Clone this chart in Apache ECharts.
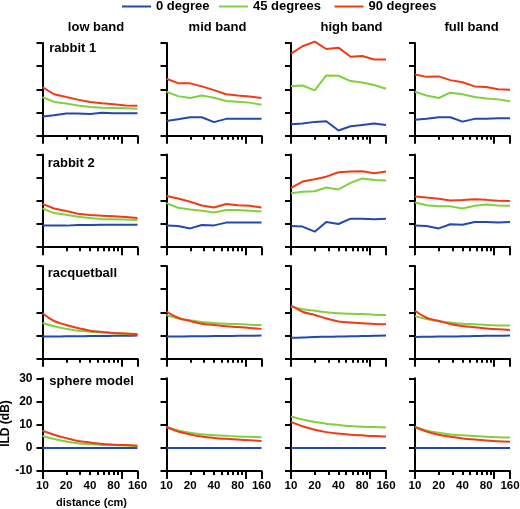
<!DOCTYPE html>
<html>
<head>
<meta charset="utf-8">
<script src="https://cdn.jsdelivr.net/npm/echarts@6/dist/echarts.min.js"></script>
<style>html,body{margin:0;padding:0;background:#fff;}#c{width:520px;height:509px;}</style>
</head>
<body>
<div id="c"></div>
<script>
// ---- data ----
const distances = [10, 14, 20, 28, 40, 57, 80, 113, 160];
const bands = ['low band', 'mid band', 'high band', 'full band'];
const subjects = ['rabbit 1', 'rabbit 2', 'racquetball', 'sphere model'];
const angles = ['0 degree', '45 degrees', '90 degrees'];
const yTicks = [-10, 0, 10, 20, 30];
const xLabelTicks = [10, 20, 40, 80, 160];
const xMajorTicks = [10, 100, 160];
const xMinorTicks = [20, 30, 40, 50, 60, 70, 80, 90];

// each array: [low, mid, high, full]
const rabbit1_0 = [
  [-1.7, -1.1, -0.4, -0.4, -0.6, -0.1, -0.3, -0.3, -0.3],
  [-3.6, -2.9, -2.0, -2.0, -4.1, -2.7, -2.7, -2.7, -2.7],
  [-5.0, -4.7, -4.0, -3.7, -7.7, -5.9, -5.3, -4.7, -5.3],
  [-3.1, -2.7, -2.0, -2.0, -3.9, -2.7, -2.6, -2.4, -2.4]
];
const rabbit1_45 = [
  [6.6, 4.6, 3.9, 3.1, 2.4, 2.1, 2.0, 1.9, 1.7],
  [9.0, 7.1, 6.3, 7.4, 6.4, 5.0, 4.7, 4.3, 3.4],
  [11.4, 11.7, 9.6, 16.0, 15.9, 13.6, 13.0, 11.9, 10.3],
  [9.0, 7.4, 6.3, 8.6, 7.9, 6.7, 6.1, 5.7, 4.9]
];
const rabbit1_90 = [
  [11.0, 7.9, 6.7, 5.6, 4.6, 4.0, 3.6, 3.1, 2.9],
  [14.6, 12.7, 12.6, 11.3, 9.7, 7.9, 7.4, 6.9, 6.3],
  [25.4, 28.6, 30.6, 27.4, 28.0, 24.1, 24.4, 22.9, 22.9],
  [16.4, 15.4, 15.6, 14.0, 13.1, 11.3, 11.0, 10.1, 9.9]
];
const rabbit2_0 = [
  [-0.6, -0.6, -0.7, -0.4, -0.4, -0.3, -0.3, -0.3, -0.3],
  [-0.7, -0.9, -1.9, -0.4, -0.6, 0.6, 0.6, 0.6, 0.6],
  [-0.9, -1.1, -3.3, 0.9, 0.0, 2.3, 2.3, 2.0, 2.3],
  [-0.7, -0.9, -1.9, -0.1, -0.3, 0.9, 0.9, 0.7, 0.9]
];
const rabbit2_45 = [
  [6.7, 4.7, 4.0, 3.1, 2.6, 2.1, 2.0, 1.9, 1.7],
  [9.0, 7.0, 6.3, 5.7, 5.0, 6.0, 6.0, 5.7, 5.4],
  [13.3, 13.9, 14.1, 15.7, 14.9, 17.7, 19.6, 19.0, 18.7],
  [9.3, 8.1, 7.7, 7.6, 6.7, 7.9, 8.4, 8.0, 7.9]
];
const rabbit2_90 = [
  [8.7, 6.7, 5.6, 4.4, 3.9, 3.6, 3.3, 3.0, 2.6],
  [12.1, 11.0, 9.6, 8.0, 7.1, 8.6, 8.1, 7.9, 7.1],
  [15.6, 18.3, 19.3, 20.4, 22.3, 22.6, 22.7, 21.9, 22.6],
  [11.9, 11.4, 10.9, 10.1, 10.3, 10.7, 10.4, 10.0, 9.9]
];
const racquetball_0 = [
  [-0.4, -0.4, -0.3, -0.3, -0.2, -0.2, -0.1, -0.1, 0.0],
  [-0.4, -0.4, -0.3, -0.3, -0.2, -0.2, -0.1, -0.1, 0.0],
  [-0.9, -0.8, -0.6, -0.5, -0.4, -0.3, -0.2, -0.1, 0.0],
  [-0.6, -0.5, -0.4, -0.4, -0.3, -0.2, -0.1, -0.1, 0.0]
];
const racquetball_45 = [
  [5.4, 4.0, 2.9, 2.1, 1.7, 1.3, 1.0, 0.7, 0.6],
  [8.9, 7.4, 6.6, 5.9, 5.4, 5.1, 5.0, 4.7, 4.6],
  [12.4, 11.4, 10.7, 10.1, 9.6, 9.4, 9.3, 9.0, 8.9],
  [8.4, 7.1, 6.3, 5.6, 5.1, 4.9, 4.6, 4.4, 4.3]
];
const racquetball_90 = [
  [9.6, 6.3, 4.6, 3.3, 2.1, 1.6, 1.1, 0.9, 0.6],
  [10.4, 7.7, 6.3, 5.1, 4.6, 4.0, 3.7, 3.3, 2.9],
  [13.1, 10.3, 8.9, 7.4, 6.1, 5.6, 5.3, 5.0, 4.9],
  [10.7, 7.7, 6.3, 5.0, 4.1, 3.6, 3.1, 2.7, 2.4]
];
const sphere_0 = [
  [0, 0, 0, 0, 0, 0, 0, 0, 0],
  [0, 0, 0, 0, 0, 0, 0, 0, 0],
  [0, 0, 0, 0, 0, 0, 0, 0, 0],
  [0, 0, 0, 0, 0, 0, 0, 0, 0]
];
const sphere_45 = [
  [5.1, 3.8, 2.8, 2.0, 1.6, 1.3, 1.2, 1.0, 0.7],
  [9.0, 7.5, 6.5, 5.9, 5.5, 5.2, 4.9, 4.8, 4.6],
  [13.5, 12.2, 11.2, 10.4, 9.9, 9.4, 9.1, 9.0, 8.8],
  [9.0, 7.5, 6.5, 5.8, 5.4, 5.1, 4.8, 4.6, 4.5]
];
const sphere_90 = [
  [7.4, 5.7, 4.2, 3.0, 2.3, 1.7, 1.4, 1.2, 0.9],
  [9.0, 7.1, 5.8, 4.9, 4.3, 3.9, 3.6, 3.3, 3.0],
  [11.2, 9.3, 7.8, 6.8, 6.2, 5.7, 5.4, 5.1, 4.9],
  [9.0, 7.1, 5.7, 4.8, 4.1, 3.6, 3.2, 2.9, 2.6]
];

const subjectData = [
  [rabbit1_0, rabbit1_45, rabbit1_90],
  [rabbit2_0, rabbit2_45, rabbit2_90],
  [racquetball_0, racquetball_45, racquetball_90],
  [sphere_0, sphere_45, sphere_90]
];
const smoothRows = [false, false, true, true];

// ---- layout & style ----
const colors = ['#2447b0', '#80d040', '#f23a16'];
const FONT = '"Liberation Sans", Arial, Helvetica, sans-serif';
const gridLeft = [42.5, 166.5, 291, 415];
const gridTop = [43, 154.4, 266, 378.3];
const gridW = 95;
const gridH = 92.8;
const titleX = [96, 217.5, 351.5, 471.5];
const rowLabelPos = [[49.3, 48.3], [47.7, 163], [47.7, 273], [49.3, 381.5]];

const grids = [], xAxes = [], yAxes = [], series = [];
for (let r = 0; r < 4; r++) {
  for (let c = 0; c < 4; c++) {
    const g = grids.length;
    grids.push({left: gridLeft[c], top: gridTop[r], width: gridW, height: gridH,
      containLabel: false, outerBoundsMode: 'none'});
    const bottomRow = r === 3;
    // major ticks + labels
    xAxes.push({
      type: 'log', logBase: 10, min: 10, max: 160, gridIndex: g, position: 'bottom',
      axisLine: {show: true, onZero: false, lineStyle: {color: '#000', width: 2}},
      axisTick: {show: true, customValues: xMajorTicks, length: 8, lineStyle: {color: '#000', width: 2}},
      axisLabel: {show: bottomRow, customValues: xLabelTicks, margin: 9, color: '#000',
        fontSize: 11.5, fontWeight: 'bold', fontFamily: FONT, formatter: v => String(Math.round(v))},
      splitLine: {show: false}, minorTick: {show: false}, minorSplitLine: {show: false}
    });
    const xi = xAxes.length - 1;
    // minor ticks
    xAxes.push({
      type: 'log', logBase: 10, min: 10, max: 160, gridIndex: g, position: 'bottom', offset: 0,
      axisLine: {show: false, onZero: false},
      axisTick: {show: true, customValues: xMinorTicks, length: 4, lineStyle: {color: '#000', width: 2}},
      axisLabel: {show: false},
      splitLine: {show: false}
    });
    yAxes.push({
      type: 'value', min: -10, max: 30, interval: 10, gridIndex: g,
      axisLine: {show: true, onZero: false, lineStyle: {color: '#000', width: 2}},
      axisTick: {show: true, length: 6, lineStyle: {color: '#000', width: 2}},
      axisLabel: {show: r === 3 && c === 0, margin: 10, color: '#000', fontSize: 12,
        fontWeight: 'bold', fontFamily: FONT},
      splitLine: {show: false}
    });
    for (let a = 0; a < 3; a++) {
      const vals = subjectData[r][a][c];
      series.push({
        name: angles[a], type: 'line', xAxisIndex: xi, yAxisIndex: g,
        data: distances.map((d, i) => [d, vals[i]]),
        showSymbol: false, symbol: 'none', smooth: smoothRows[r] ? 0.4 : false,
        clip: false, silent: true, animation: false,
        lineStyle: {color: colors[a], width: 2},
        itemStyle: {color: colors[a]}, z: 2 + a
      });
    }
  }
}

const legendLeft = [122, 219, 334.5];
const legends = angles.map((name, i) => ({
  data: [name], left: legendLeft[i], top: 0, padding: 0,
  icon: 'rect', itemWidth: 29, itemHeight: 2, selectedMode: false,
  textStyle: {color: '#000', fontSize: 13, fontWeight: 'bold', fontFamily: FONT}
}));

const graphics = [];
bands.forEach((b, i) => graphics.push({
  type: 'text', x: titleX[i], y: 27.3, silent: true,
  style: {text: b, fill: '#000', font: 'bold 13px ' + FONT, align: 'center', verticalAlign: 'middle'}
}));
subjects.forEach((s, i) => graphics.push({
  type: 'text', x: rowLabelPos[i][0], y: rowLabelPos[i][1], silent: true,
  style: {text: s, fill: '#000', font: 'bold 13px ' + FONT, align: 'left', verticalAlign: 'middle'}
}));
graphics.push({
  type: 'text', x: 6, y: 423.5, rotation: Math.PI / 2, silent: true,
  style: {text: 'ILD (dB)', fill: '#000', font: 'bold 12px ' + FONT, align: 'center', verticalAlign: 'middle'}
});
graphics.push({
  type: 'text', x: 91.5, y: 502.5, silent: true,
  style: {text: 'distance (cm)', fill: '#000', font: 'bold 11px ' + FONT, align: 'center', verticalAlign: 'middle'}
});

const chart = echarts.init(document.getElementById('c'), null, {renderer: 'canvas'});
chart.setOption({
  backgroundColor: '#fff',
  animation: false,
  legend: legends,
  grid: grids,
  xAxis: xAxes,
  yAxis: yAxes,
  series: series,
  graphic: graphics
});
</script>
</body>
</html>
